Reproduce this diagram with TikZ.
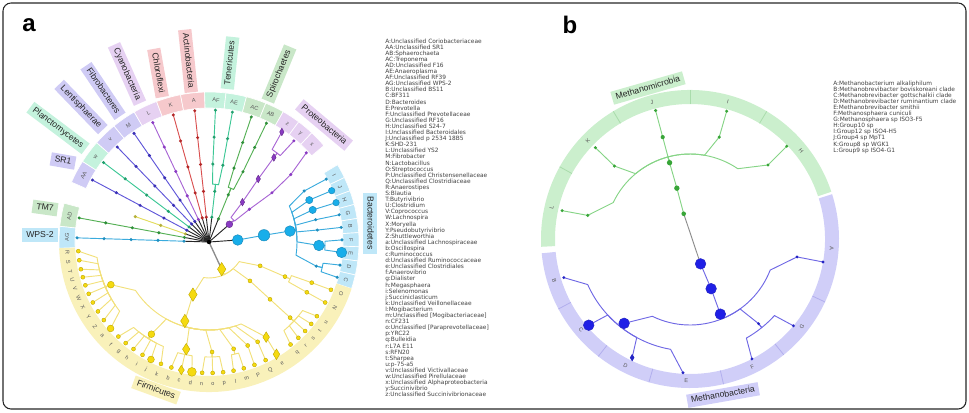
\documentclass[tikz,border=0pt]{standalone}
\usepackage{fontspec}
\setmainfont{Liberation Sans}
\newfontfamily\legendfont{DejaVu Sans}

\definecolor{purLine}{HTML}{5F56D8}
\definecolor{purDot}{HTML}{3A30B5}
\definecolor{purBox}{HTML}{CFCBF5}
\definecolor{tealLine}{HTML}{3CC795}
\definecolor{tealDot}{HTML}{22A06E}
\definecolor{tealBox}{HTML}{C4F2DD}
\definecolor{violLine}{HTML}{A865D4}
\definecolor{violDot}{HTML}{8A3BC3}
\definecolor{violBox}{HTML}{E6D1F2}
\definecolor{redLine}{HTML}{D95050}
\definecolor{redDot}{HTML}{B42828}
\definecolor{redBox}{HTML}{F6C9CC}
\definecolor{grnLine}{HTML}{55B055}
\definecolor{grnDot}{HTML}{2F8F3A}
\definecolor{grnBox}{HTML}{C9E7C8}
\definecolor{cyanLine}{HTML}{3AABDD}
\definecolor{cyanDot}{HTML}{1E8EBF}
\definecolor{cyanBig}{HTML}{18AEEA}
\definecolor{cyanBox}{HTML}{BFE7F8}
\definecolor{yelLine}{HTML}{F2E07A}
\definecolor{yelDot}{HTML}{F5DA10}
\definecolor{yelEdge}{HTML}{BFA800}
\definecolor{yelBox}{HTML}{F9F1BA}
\definecolor{oliveLine}{HTML}{E2DC5C}
\definecolor{oliveDot}{HTML}{B5B03A}
\definecolor{mmLine}{HTML}{86D486}
\definecolor{mmDot}{HTML}{38A538}
\definecolor{mmBox}{HTML}{CBEFCD}
\definecolor{mmSep}{HTML}{A9DCAB}
\definecolor{mbLine}{HTML}{6E67E4}
\definecolor{mbDot}{HTML}{2424C4}
\definecolor{mbBig}{HTML}{1F1FE6}
\definecolor{mbBox}{HTML}{D0CEF8}
\definecolor{mbSep}{HTML}{B2AFEE}

\newcommand{\twig}[6]{\draw[#1] (#2:#3) -- (#2:#4)
  arc[start angle=#2, end angle={(#2)+0.8*((#5)-(#2))}, radius=#4] -- (#5:#6);}
\newcommand{\band}[5]{\path[#1] (#2:#4) arc[start angle=#2, end angle=#3, radius=#4]
  -- (#3:#5) arc[start angle=#3, end angle=#2, radius=#5] -- cycle;}
\newcommand{\gem}[5]{\filldraw[#1] (#2:#3) ++(0,#5) -- ++(#4,-#5) -- ++(-#4,-#5) -- ++(-#4,#5) -- cycle;}

\begin{document}
\begin{tikzpicture}[x=0.75pt, y=0.75pt,
    tree/.style={line width=0.7pt, line join=round},
    root/.style={line width=0.7pt, draw=black!85},
    fdot/.style={fill=yelDot, draw=yelEdge, line width=0.3pt},
    clade/.style={inner xsep=3pt, inner ysep=0pt, text height=4.9pt, text depth=1.4pt,
      minimum height=10pt, font=\fontsize{6.5}{7}\selectfont, text=black!85},
    leaf/.style={inner sep=0pt, font=\fontsize{4.2}{5}\selectfont, text=black!65},
    legend/.style={anchor=base west, inner sep=0pt, text height=3.3pt, text depth=0.9pt,
      font=\legendfont\fontsize{4.4}{5}\selectfont, text=black!75},
    panel/.style={font=\fontsize{18}{18}\selectfont\bfseries}
  ]
  \useasboundingbox (0,0) rectangle (969,412);
  \draw[line width=0.8pt, rounded corners=6pt, black!85] (3,3) rectangle (966,409);

  % ---- a ----
  \node[panel] (pa) at (29,387) {a};
  \begin{scope}[shift={(209,170)}]
    \foreach \ta/\tb/\col in {156.5/147.5/purBox, 147.5/138.5/tealBox, 138.5/129.3/purBox,
      129.3/119.9/purBox, 119.9/110.45/violBox, 110.45/100.95/redBox, 100.95/91.7/redBox,
      91.7/83.5/tealBox, 83.5/75.55/tealBox, 75.55/67.75/grnBox, 67.75/60.35/grnBox,
      60.35/53.25/violBox, 53.25/46.75/violBox, 46.75/40/violBox,
      31/25.45/cyanBox, 25.45/19.95/cyanBox, 19.95/14.5/cyanBox, 14.5/9.05/cyanBox, 9.05/3.6/cyanBox,
      3.6/-1.8/cyanBox, -1.8/-7.25/cyanBox, -7.25/-12.7/cyanBox, -12.7/-18.1/cyanBox,
      165/174/grnBox, 174/182.4/cyanBox}
    {\band{fill=\col, draw=white, line width=0.5pt}{\ta}{\tb}{134}{150}}
    \band{fill=yelBox}{182.4}{341.9}{134}{150}
    \foreach \t/\l in {152/AA, 143/w, 134/v, 124.6/M, 115.2/L, 105.7/K, 96.2/A, 87.2/AF, 79.8/AE,
      71.3/AC, 64.2/AB, 56.5/z, 50/y, 43.5/x, 28.2/I, 22.7/J, 17.2/H, 11.8/G, 6.3/B, 0.9/F,
      -4.5/E, -10/D, -15.4/C, 169.5/AD, 178.2/AG, 184/R, 188/S, 192/T, 195.6/U, 199.3/V, 203.3/W,
      207.5/X, 212/Y, 216.6/Z, 221.3/a, 226.2/f, 230.5/g, 234.8/h, 239.5/i, 243.7/j, 248.5/k,
      253.3/b, 257.8/c, 262.5/d, 267/n, 271.6/o, 276.2/p, 280.8/l, 285.4/m, 290.3/P, 295.6/Q,
      301/e, 308.5/q, 313/r, 317.2/s, 321.3/t, 325.5/u, 332.5/N, 338.6/O}
    {
      \pgfmathsetmacro\rr{ifthenelse(and(\t<180,\t>-30),\t-90,\t+90)}
      \node[leaf, rotate=\rr] (ra-\l) at (\t:142) {\l};
    }

    \foreach \t in {152,143,134,124.6,115.2,105.7,96.2,83.5,67.75,161,169.5,178.2}
      \draw[root] (0,0) -- (\t:25);
    \draw[root] (0,0) -- (41:27);
    \draw[root] (0,0) -- (4:28.8);
    \draw[root, draw=black!45, line width=1pt] (0,0) -- (295:30);

    \foreach \t/\lc/\dc in {152/purLine/purDot, 143/tealLine/tealDot, 134/purLine/purDot,
      124.6/purLine/purDot, 115.2/violLine/violDot, 105.7/redLine/redDot, 96.2/redLine/redDot,
      169.5/grnLine/grnDot, 178.2/cyanLine/cyanDot}
    {
      \draw[tree, \lc] (\t:25) -- (\t:132);
      \foreach \r in {25,51,78,105,132} \fill[\dc] (\t:\r) circle[radius=1.7];
    }
    \draw[tree, oliveLine] (161:25) -- (161:78);
    \foreach \r in {25,51,78} \fill[oliveDot] (161:\r) circle[radius=1.7];

    % Tenericutes, Spirochaetes
    \draw[tree, tealLine] (83.5:25) -- (83.5:51);
    \foreach \t in {87.2,79.8} {
      \twig{tree, tealLine}{83.5}{51}{58}{\t}{78}
      \draw[tree, tealLine] (\t:78) -- (\t:132);
      \foreach \r in {78,105,132} \fill[tealDot] (\t:\r) circle[radius=1.7];
    }
    \foreach \r in {25,51} \fill[tealDot] (83.5:\r) circle[radius=1.7];
    \draw[tree, grnLine] (67.75:25) -- (67.75:51);
    \foreach \t in {71.3,64.2} {
      \twig{tree, grnLine}{67.75}{51}{58}{\t}{78}
      \draw[tree, grnLine] (\t:78) -- (\t:132);
      \foreach \r in {78,105,132} \fill[grnDot] (\t:\r) circle[radius=1.7];
    }
    \foreach \r in {25,51} \fill[grnDot] (67.75:\r) circle[radius=1.7];

    % Proteobacteria
    \twig{tree, violLine}{41}{27}{33}{50}{52}
    \twig{tree, violLine}{41}{27}{33}{39}{52}
    \draw[tree, violLine] (50:52) -- (52:80) -- (52.5:106.5);
    \twig{tree, violLine}{52.5}{106.5}{112}{56.5}{132}
    \twig{tree, violLine}{52.5}{106.5}{112}{50}{132}
    \draw[tree, violLine] (39:52) -- (38:80) -- (39.5:106) -- (42.5:132);
    \foreach \p in {(39:52),(38:80),(39.5:106),(42.5:132),(50:132)}
      \fill[violDot] \p circle[radius=1.7];
    \filldraw[fill=violDot, draw=violDot!70!black, line width=0.3pt] (41:27) circle[radius=3.4];
    \foreach \t/\r in {50/52, 52/80, 52.5/106.5, 56.5/132}
    {\gem{fill=violDot, draw=violDot!70!black, line width=0.3pt}{\t}{\r}{2.2}{3.8}}

    % Bacteroidetes
    \draw[tree, cyanLine] (4:28.8) -- (7:55.4) -- (7.7:81.7);
    \foreach \t/\r in {28.2/108, 22.7/108.7, 17.2/108.5, 11.8/109, 6.3/109, -1.8/110, -12.7/110}
    {\twig{tree, cyanLine}{7.7}{81.7}{88}{\t}{\r}}
    \foreach \t/\r in {28.2/108, 22.7/108.7, 17.2/108.5, 11.8/109, 6.3/109}
      \draw[tree, cyanLine] (\t:\r) -- (\t:133);
    \foreach \t in {0.9,-4.5} {\twig{tree, cyanLine}{-1.8}{110}{116}{\t}{133}}
    \foreach \t in {-10,-15.4} {\twig{tree, cyanLine}{-12.7}{110}{116}{\t}{133}}
    \foreach \p in {(28.2:108),(28.2:133),(11.8:109),(11.8:133),(6.3:109),(6.3:133),(0.9:133),
      (-12.7:110),(-10:133),(-15.4:133)}
      \fill[cyanDot] \p circle[radius=1.7];
    \foreach \p/\s in {(4:28.8)/5.3, (7:55.4)/5.7, (7.7:81.7)/5.3, (22.7:108.7)/3.6, (17.2:108.5)/3.6,
      (22.7:133)/3.2, (17.2:133)/3.2, (-1.8:110)/5.3, (-4.5:133)/5.2}
      \filldraw[fill=cyanBig, draw=cyanDot, line width=0.4pt] \p circle[radius=\s];

    % Firmicutes
    \foreach \t/\r in {253/55, 316.5/56.5, 335/56.4} {\twig{tree, yelLine}{295}{30}{36}{\t}{\r}}
    \draw[tree, yelLine] (253:55) -- (253:82.6);
    \draw[tree, yelLine] (316.5:56.5) -- (316.8:83.7) -- (317:110.9);
    \draw[tree, yelLine] (335:56.4) -- (335.5:83.5);
    \foreach \t/\r in {203.5/107, 238/108.7, 258/109.6, 271.6/110, 283/109.6, 290.5/110.5, 296/111, 301/111}
    {\twig{tree, yelLine}{253}{82.6}{88}{\t}{\r}}
    \foreach \t in {184,188,192,195.6,199.3,203.3,207.5,212,216.6,221.3}
    {\twig{tree, yelLine}{203.5}{107}{113}{\t}{131}}
    \foreach \t in {226.2,230.5,234.8,239.5,243.7,248.5}
    {\twig{tree, yelLine}{238}{108.7}{114}{\t}{131}}
    \foreach \t in {253.3,257.8,262.5} {\twig{tree, yelLine}{258}{109.6}{115}{\t}{131}}
    \foreach \t in {267,271.6,276.2} {\twig{tree, yelLine}{271.6}{110}{115}{\t}{131}}
    \foreach \t in {280.8,285.4} {\twig{tree, yelLine}{283}{109.6}{115}{\t}{131}}
    \draw[tree, yelLine] (290.5:110.5) -- (290.3:131);
    \draw[tree, yelLine] (296:111) -- (295.6:131);
    \draw[tree, yelLine] (301:111) -- (301:131);
    \foreach \t in {308.5,313,317.2,321.3,325.5} {\twig{tree, yelLine}{317}{110.9}{116}{\t}{131}}
    \twig{tree, yelLine}{335.5}{83.5}{89}{332.8}{110}
    \twig{tree, yelLine}{335.5}{83.5}{89}{338.4}{110.5}
    \draw[tree, yelLine] (332.8:110) -- (332.5:131);
    \draw[tree, yelLine] (338.4:110.5) -- (338.6:131);
    \foreach \t in {184,188,192,195.6,199.3,203.3,207.5,212,216.6,226.2,230.5,234.8,239.5,248.5,
      253.3,267,271.6,276.2,280.8,285.4,290.3,295.6,308.5,313,317.2,321.3,325.5,332.5,338.6}
      \filldraw[fdot] (\t:131) circle[radius=2];
    \foreach \p in {(316.5:56.5),(316.8:83.7),(317:110.9),(335:56.4),(335.5:83.5),(332.8:110),
      (338.4:110.5),(271.6:110),(283:109.6),(290.5:110.5),(296:111)}
      \filldraw[fdot] \p circle[radius=2];
    \foreach \p/\s in {(203.5:107)/3.4, (238:108.7)/3.4, (221.3:131)/3.4, (243.7:131)/3.4, (262.5:131)/4.4}
      \filldraw[fdot] \p circle[radius=\s];
    \foreach \t/\r/\w/\h in {295/30/4.2/6.7, 253/55/4.2/6.7, 253/82.6/4.2/6.7, 258/109.6/3.7/5.8,
      301/111/3.3/5.3, 257.8/131/3/4.7, 301/131/3.3/5.3}
    {\gem{fdot}{\t}{\r}{\w}{\h}}
    \fill[black] (0,0) circle[radius=2.2];
  \end{scope}

  \node[clade, fill=purBox, rotate=-10] (sr1) at (63,251) {SR1};
  \node[clade, fill=tealBox, rotate=-37] (planc) at (58,284) {Planctomycetes};
  \node[clade, fill=purBox, rotate=-46] (lenti) at (81,305) {Lentisphaerae};
  \node[clade, fill=purBox, rotate=-56] (fibro) at (103,321) {Fibrobacteres};
  \node[clade, fill=violBox, rotate=-66] (cyano) at (127,338) {Cyanobacteria};
  \node[clade, fill=redBox, rotate=-80] (chloro) at (158,339) {Chloroflexi};
  \node[clade, fill=redBox, rotate=-84] (actino) at (188,351) {Actinobacteria};
  \node[clade, fill=tealBox, rotate=84] (teneri) at (230,349) {Tenericutes};
  \node[clade, fill=grnBox, rotate=67.5] (spiro) at (279,338) {Spirochaetes};
  \node[clade, fill=violBox, rotate=-40] (proteo) at (324,287) {Proteobacteria};
  \node[clade, fill=cyanBox, rotate=-90] (bactero) at (370,189) {Bacteroidetes};
  \node[clade, fill=yelBox, rotate=-20] (firmi) at (156,22) {Firmicutes};
  \node[clade, fill=grnBox, rotate=-8] (tm7) at (45,204) {TM7};
  \node[clade, fill=cyanBox] (wps2) at (40,177) {WPS-2};

  \foreach \e [count=\i] in {A:Unclassified Coriobacteriaceae,AA:Unclassified SR1,AB:Sphaerochaeta,
    AC:Treponema,AD:Unclassified F16,AE:Anaeroplasma,AF:Unclassified RF39,AG:Unclassified WPS-2,
    B:Unclassified BS11,C:BF311,D:Bacteroides,E:Prevotella,F:Unclassified Prevotellaceae,
    G:Unclassified RF16,H:Unclassified S24-7,I:Unclassified Bacteroidales,J:Unclassified p 2534 18B5,
    K:SHD-231,L:Unclassified YS2,M:Fibrobacter,N:Lactobacillus,O:Streptococcus,
    P:Unclassified Christensenellaceae,Q:Unclassified Clostridiaceae,R:Anaerostipes,S:Blautia,
    T:Butyrivibrio,U:Clostridium,V:Coprococcus,W:Lachnospira,X:Moryella,Y:Pseudobutyrivibrio,
    Z:Shuttleworthia,a:Unclassified Lachnospiraceae,b:Oscillospira,c:Ruminococcus,
    d:Unclassified Ruminococcaceae,e:Unclassified Clostridiales,f:Anaerovibrio,g:Dialister,
    h:Megasphaera,i:Selenomonas,j:Succiniclasticum,k:Unclassified Veillonellaceae,l:Mogibacterium,
    {m:Unclassified [Mogibacteriaceae]},n:CF231,{o:Unclassified [Paraprevotellaceae]},p:YRC22,
    q:Bulleidia,r:L7A E11,s:RFN20,t:Sharpea,u:p-75-a5,v:Unclassified Victivallaceae,
    w:Unclassified Pirellulaceae,x:Unclassified Alphaproteobacteria,y:Succinivibrio,
    z:Unclassified Succinivibrionaceae}
    \node[legend] (la\i) at (385,{369-6.1*(\i-1)}) {\e};

  % ---- b ----
  \node[panel] (pb) at (570,387) {b};
  \begin{scope}[shift={(690,173)}]
    \band{fill=mmBox}{183}{18.5}{135}{149}
    \band{fill=mbBox}{17.5}{-174.5}{135}{149}
    \foreach \t in {151,121,90,59} \draw[mmSep, line width=0.6pt] (\t:135) -- (\t:149);
    \foreach \t in {-25,-51,-77,-106,-128,-152} \draw[mbSep, line width=0.6pt] (\t:135) -- (\t:149);
    \foreach \t/\l in {167/L, 136/K, 105.5/J, 74.5/I, 38.5/H, -4/A, -38/G, -64/F, -91.5/E,
      -117/D, -140/C, -163/B}
    {
      \pgfmathsetmacro\rr{ifthenelse(and(\t<180,\t>-30),\t-90,\t+90)}
      \node[leaf, rotate=\rr] (rb-\l) at (\t:142) {\l};
    }
    \draw[tree, black!45] (104:26) -- (-67:27);
    \draw[tree, mmLine] (104:26) -- (104.5:52.5) -- (105:79) -- (105:105.5) -- (105:133);
    \foreach \t/\r in {167/105, 136/105, 74/106, 43.5/107.5} {\twig{tree, mmLine}{105}{79}{85}{\t}{\r}}
    \draw[tree, mmLine] (167:105) -- (167.5:131);
    \draw[tree, mmLine] (136:105) -- (136:131.5);
    \draw[tree, mmLine] (74:106) -- (74:133);
    \draw[tree, mmLine] (43.5:107.5) -- (43.8:134);
    \foreach \p in {(167:105),(167.5:131),(136:105),(136:131.5),(74:106),(74:133),(43.5:107.5),
      (43.8:134),(105:133)}
      \fill[mmDot] \p circle[radius=1.7];
    \foreach \p/\s in {(104:26)/2.3, (104.5:52.5)/2.7, (105:79)/2.7, (105:105.5)/2.1}
      \fill[mmDot] \p circle[radius=\s];

    \draw[tree, mbLine] (-67:27) -- (-67:54) -- (-68:81);
    \foreach \t/\r in {-128/107, -51/109, -9.5/108.5} {\twig{tree, mbLine}{-68}{81}{86}{\t}{\r}}
    \foreach \t/\r in {-163/132, -139.6/133, -116/132, -93/134} {\twig{tree, mbLine}{-128}{107}{112}{\t}{\r}}
    \foreach \t in {-62.7,-40} {\twig{tree, mbLine}{-51}{109}{114}{\t}{135}}
    \draw[tree, mbLine] (-9.5:108.5) -- (-9.8:135);
    \foreach \p in {(-51:109),(-9.5:108.5),(-9.8:135),(-163:132),(-93:134),(-62.7:135),(-40:135)}
      \fill[mbDot] \p circle[radius=1.6];
    \foreach \p in {(-67:27),(-67:54),(-68:81),(-128:107),(-139.6:133)}
      \filldraw[fill=mbBig, draw=mbDot, line width=0.4pt] \p circle[radius=5.3];
    \gem{fill=mbDot, draw=mbDot}{-116}{132}{1.9}{3.2}
  \end{scope}

  \node[clade, fill=mmBox, rotate=16] (mmicro) at (648,324) {Methanomicrobia};
  \node[clade, fill=mbBox, rotate=10] (mbact) at (723,17) {Methanobacteria};

  \foreach \e [count=\i] in {A:Methanobacterium alkaliphilum,B:Methanobrevibacter boviskoreani clade,
    C:Methanobrevibacter gottschalkii clade,D:Methanobrevibacter ruminantium clade,
    E:Methanobrevibacter smithii,F:Methanosphaera cuniculi,G:Methanosphaera sp ISO3-F5,
    H:Group10 sp,I:Group12 sp ISO4-H5,J:Group4 sp MpT1,K:Group8 sp WGK1,L:Group9 sp ISO4-G1}
    \node[legend] (lb\i) at (833,{327-6.1*(\i-1)}) {\e};
\end{tikzpicture}
\end{document}
